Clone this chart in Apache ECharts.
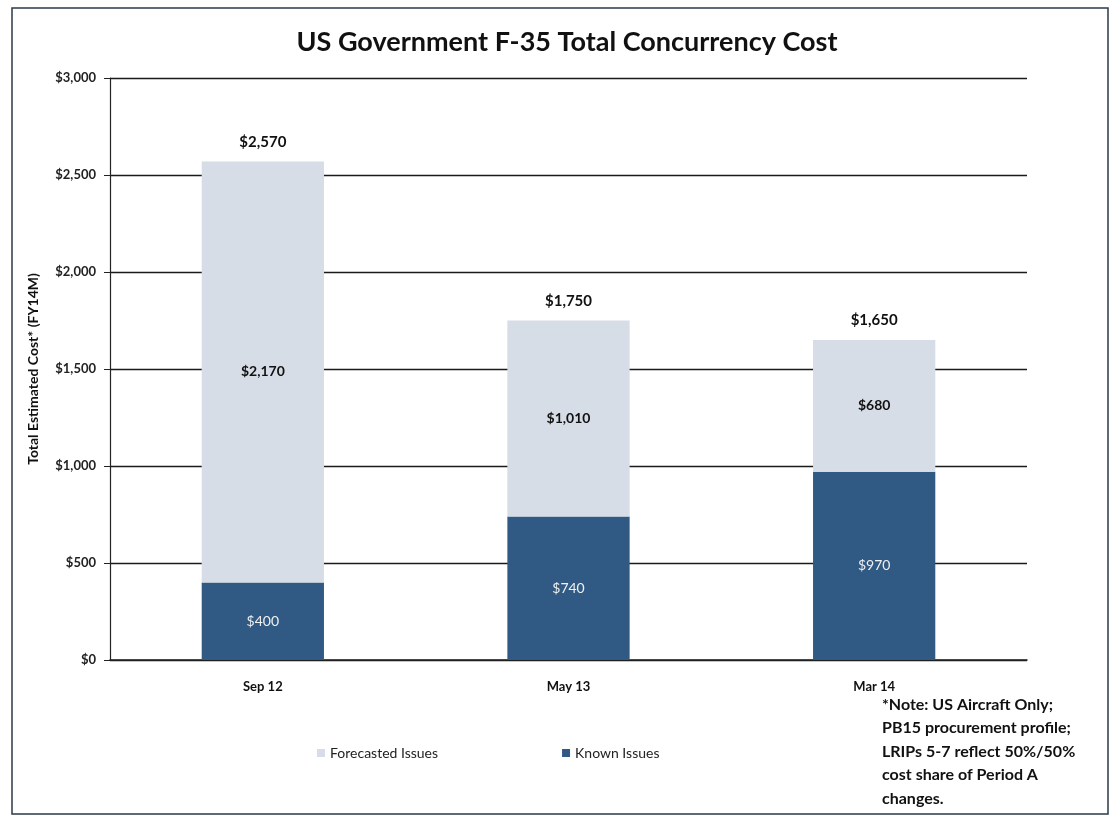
<!DOCTYPE html>
<html><head><meta charset="utf-8">
<script src="https://cdn.jsdelivr.net/npm/echarts@6/dist/echarts.min.js"></script>
<style>html,body{margin:0;padding:0;background:#fff}#c{width:1113px;height:817px}</style>
</head><body><div id="c"></div>
<script>
const categories = ['Sep 12', 'May 13', 'Mar 14'];
const knownIssues = [400, 740, 970];
const forecastedIssues = [2170, 1010, 680];
const totals = [2570, 1750, 1650];
const yTicks = [0, 500, 1000, 1500, 2000, 2500, 3000];
const noteText = '*Note: US Aircraft Only;\nPB15 procurement profile;\nLRIPs 5-7 reflect 50%/50%\ncost share of Period A\nchanges.';

const fmt = v => '$' + Number(v).toLocaleString('en-US');
const FONT = 'Lato';
const chart = echarts.init(document.getElementById('c'));
chart.setOption({
  backgroundColor: '#fff',
  textStyle: { fontFamily: FONT },
  animation: false,
  title: {
    text: 'US Government F-35 Total Concurrency Cost',
    left: 562, top: 24, textAlign: 'center',
    textStyle: { fontFamily: FONT, fontSize: 27, fontWeight: 'bold', color: '#111' }
  },
  legend: {
    left: 312, top: 741, itemWidth: 8, itemHeight: 8, itemGap: 124, icon: 'rect',
    data: ['Forecasted Issues', 'Known Issues'],
    textStyle: { fontFamily: FONT, fontSize: 14, color: '#222' }
  },
  grid: { left: 110, right: 86, top: 78, bottom: 157 },
  xAxis: {
    type: 'category', data: categories,
    axisLine: { lineStyle: { color: '#222', width: 1.5 } },
    axisTick: { show: false },
    axisLabel: { fontFamily: FONT, fontWeight: 'bold', fontSize: 13, color: '#111', margin: 20 }
  },
  yAxis: {
    type: 'value', min: yTicks[0], max: yTicks[yTicks.length - 1], interval: 500,
    name: 'Total Estimated Cost* (FY14M)', nameLocation: 'middle', nameGap: 70,
    nameTextStyle: { fontFamily: FONT, fontWeight: 'bold', fontSize: 14, color: '#111' },
    axisLine: { show: true, lineStyle: { color: '#222', width: 1.2 } },
    axisTick: { show: true, length: 6, lineStyle: { color: '#222' } },
    axisLabel: { formatter: fmt, fontFamily: FONT, fontWeight: 'bold', fontSize: 13, color: '#222', margin: 14 },
    splitLine: { lineStyle: { color: '#1a1a1a', width: 1.3 } }
  },
  series: [
    {
      name: 'Known Issues', type: 'bar', stack: 'a', data: knownIssues, barWidth: '40%',
      itemStyle: { color: '#305a84' },
      label: { show: true, position: 'inside', formatter: p => fmt(p.value), color: '#f0f0f0', fontFamily: FONT, fontSize: 14 }
    },
    {
      name: 'Forecasted Issues', type: 'bar', stack: 'a', data: forecastedIssues, barWidth: '40%',
      itemStyle: { color: '#d6dde6' },
      label: { show: true, position: 'inside', formatter: p => fmt(p.value), color: '#111', fontFamily: FONT, fontWeight: 'bold', fontSize: 14 }
    },
    {
      name: 'Total', type: 'bar', stack: 'a', data: totals.map(() => 0), barWidth: '40%', silent: true,
      itemStyle: { color: 'transparent' },
      label: { show: true, position: 'top', distance: 12, formatter: p => fmt(totals[p.dataIndex]), color: '#111', fontFamily: FONT, fontWeight: 'bold', fontSize: 15 }
    }
  ],
  graphic: [
    { type: 'rect', shape: { x: 12, y: 8, width: 1096, height: 806 }, style: { fill: 'none', stroke: '#2a3a4a', lineWidth: 1.5 }, silent: true },
    { type: 'text', left: 882, top: 693, style: { text: noteText, font: 'bold 16px ' + FONT, fill: '#111', lineHeight: 23.5 } }
  ]
});
</script></body></html>
